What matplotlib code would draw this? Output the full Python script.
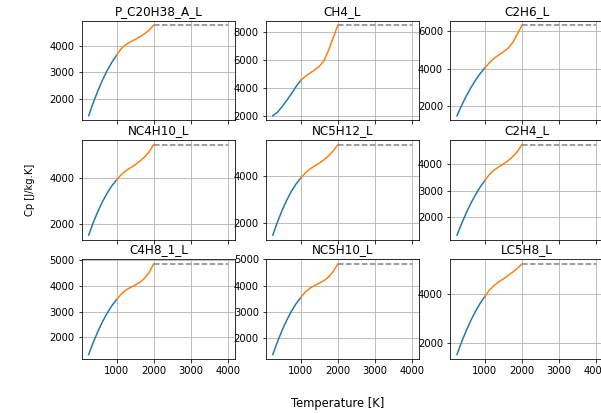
import numpy as np
import matplotlib
matplotlib.use("Agg")
import matplotlib.pyplot as plt

# Species names (subplot titles), row by row
species = ["P_C20H38_A_L", "CH4_L", "C2H6_L",
           "NC4H10_L", "NC5H12_L", "C2H4_L",
           "C4H8_1_L", "NC5H10_L", "LC5H8_L"]

# Temperature grids [K]
T_low = [250, 375, 500, 625, 750, 875, 1000]
T_high = [1000, 1125, 1250, 1375, 1500, 1625, 1750, 1875, 2000]
T_ext = [2000, 4000]

# Cp [J/kg.K], low-temperature branch
cp_low = {
    "P_C20H38_A_L": [1358, 1856, 2306, 2709, 3065, 3374, 3635],
    "CH4_L":        [2050, 2300, 2700, 3150, 3620, 4120, 4560],
    "C2H6_L":       [1500, 2050, 2550, 3000, 3400, 3750, 4050],
    "NC4H10_L":     [1500, 2052, 2545, 2978, 3351, 3665, 3920],
    "NC5H12_L":     [1500, 2060, 2558, 2995, 3368, 3680, 3930],
    "C2H4_L":       [1340, 1774, 2171, 2529, 2849, 3131, 3375],
    "C4H8_1_L":     [1335, 1810, 2238, 2618, 2949, 3234, 3470],
    "NC5H10_L":     [1356, 1846, 2286, 2675, 3014, 3302, 3540],
    "LC5H8_L":      [1550, 2057, 2517, 2930, 3297, 3617, 3890],
}

# Cp [J/kg.K], high-temperature branch
cp_high = {
    "P_C20H38_A_L": [3635, 3880, 4040, 4140, 4230, 4330, 4440, 4580, 4767],
    "CH4_L":        [4560, 4850, 5080, 5300, 5560, 5950, 6700, 7600, 8480],
    "C2H6_L":       [4050, 4330, 4560, 4740, 4900, 5100, 5400, 5850, 6320],
    "NC4H10_L":     [3920, 4150, 4320, 4450, 4580, 4740, 4920, 5150, 5470],
    "NC5H12_L":     [3930, 4150, 4320, 4450, 4570, 4710, 4880, 5090, 5360],
    "C2H4_L":       [3375, 3600, 3760, 3880, 3990, 4110, 4260, 4450, 4710],
    "C4H8_1_L":     [3470, 3680, 3840, 3940, 4030, 4140, 4290, 4520, 4857],
    "NC5H10_L":     [3540, 3750, 3900, 4000, 4090, 4190, 4330, 4540, 4830],
    "LC5H8_L":      [3890, 4150, 4330, 4480, 4600, 4730, 4870, 5020, 5200],
}

W, H = 601, 413
fig, axes = plt.subplots(3, 3, sharex=True, figsize=(W / 72, H / 72), dpi=72)
fig.subplots_adjust(left=81.7 / W, right=603.3 / W,
                    bottom=1 - 359 / H, top=1 - 20.7 / H,
                    wspace=30.9 / 153.3, hspace=19.7 / 99.4)

for ax, name in zip(axes.flatten(), species):
    ax.plot(T_low, cp_low[name], color="#1f77b4")
    ax.plot(T_high, cp_high[name], color="#ff7f0e")
    cp_end = cp_high[name][-1]
    ax.plot(T_ext, [cp_end, cp_end], "--", color="gray")
    ax.set_title(name)
    ax.grid(True)

axes[0, 0].set_xticks([1000, 2000, 3000, 4000])

fig.text(30 / W, 1 - 190 / H, "Cp [J/kg.K]", rotation=90, ha="center", va="center")
fig.text(338 / W, 1 - 403 / H, "Temperature [K]", ha="center", va="center", fontsize=11.5)

fig.savefig("out.png", dpi=72)
